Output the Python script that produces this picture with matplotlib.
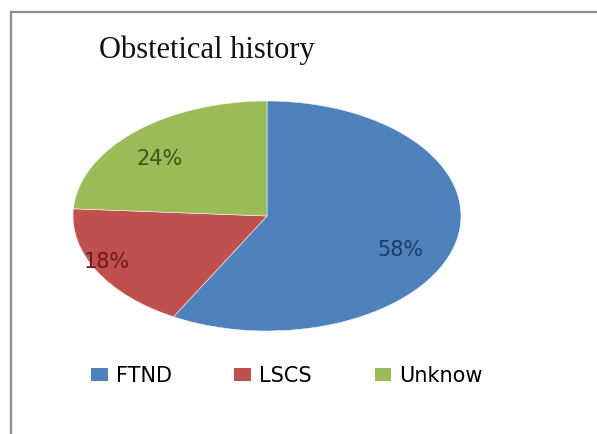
import numpy as np
import matplotlib
matplotlib.use('Agg')
import matplotlib.pyplot as plt
from matplotlib.lines import Line2D
from matplotlib.patches import Patch

# data
categories = ['FTND', 'LSCS', 'Unknow']
shares = [58, 18, 24]
colors = ['#4F81BD', '#C0504D', '#9BBB59']
label_colors = ['#1F3D66', '#6E1A18', '#3E5418']

W, H = 597, 434
fig = plt.figure(figsize=(W / 100, H / 100), dpi=100)

# chart frame (only left and top edge visible in the crop)
fig.add_artist(Line2D([11 / W, 11 / W], [0, 1 - 12 / H], color='#8c8c8c', lw=1.6))
fig.add_artist(Line2D([11 / W, 1], [1 - 12 / H, 1 - 12 / H], color='#8c8c8c', lw=1.6))

fig.text(99 / W, 1 - 50 / H, 'Obstetical history', family='Liberation Serif',
         fontsize=22, va='center', ha='left', color='#111111')

# pie is stretched horizontally, so use a non-square axes with auto aspect
ax = fig.add_axes([73 / W, 1 - 331 / H, 388 / W, 230 / H])
wedges, _ = ax.pie(shares, colors=colors, startangle=90, counterclock=False,
                   radius=1.0, wedgeprops=dict(edgecolor='#f4f4f4', linewidth=0.4))
ax.set_aspect('auto')
ax.set_xlim(-1, 1)
ax.set_ylim(-1, 1)
ax.axis('off')

# label placement (distance, angle tweak in degrees)
label_pos = [(0.75, -9), (0.92, -3), (0.74, 5)]
for w, s, c, (d, off) in zip(wedges, shares, label_colors, label_pos):
    ang = np.deg2rad((w.theta1 + w.theta2) / 2 + off)
    ax.text(d * np.cos(ang), d * np.sin(ang), f'{s}%', ha='center', va='center',
            fontsize=15, color=c, family='DejaVu Sans')

handles = [Patch(facecolor=c, edgecolor='none') for c in colors]
fig.legend(handles, categories, loc='center', bbox_to_anchor=(287 / W, 1 - 376 / H),
           ncol=3, frameon=False, handlelength=0.8, handleheight=0.6,
           handletextpad=0.4, columnspacing=3.0,
           prop=dict(family='DejaVu Sans', size=15))

fig.savefig('out.png', dpi=100)
